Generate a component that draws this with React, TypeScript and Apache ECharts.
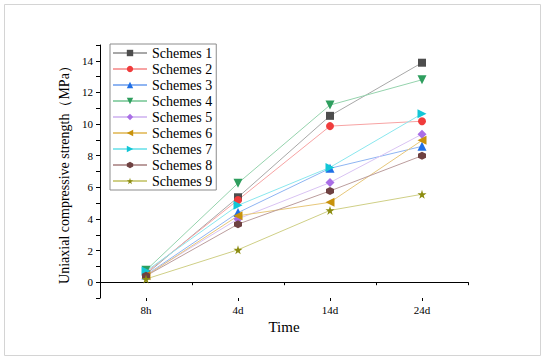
import React, { useEffect, useRef } from "react";
import * as echarts from "echarts";

const categories = ["8h", "4d", "14d", "24d"];
const seriesNames = ["Schemes 1", "Schemes 2", "Schemes 3", "Schemes 4", "Schemes 5", "Schemes 6", "Schemes 7", "Schemes 8", "Schemes 9"];
const s1 = [0.5, 5.37, 10.52, 13.88];
const s2 = [0.6, 5.2, 9.87, 10.18];
const s3 = [0.45, 4.4, 7.2, 8.59];
const s4 = [0.75, 6.26, 11.2, 12.8];
const s5 = [0.45, 4.0, 6.3, 9.36];
const s6 = [0.4, 4.2, 5.05, 8.97];
const s7 = [0.7, 4.86, 7.26, 10.65];
const s8 = [0.4, 3.67, 5.77, 8.0];
const s9 = [0.2, 2.05, 4.54, 5.56];
const allData = [s1, s2, s3, s4, s5, s6, s7, s8, s9];

const markerColors = ["#4d4d4d", "#f03c3c", "#1f6fe6", "#2e9e5e", "#a96ee6", "#c8920c", "#12c6d6", "#6e4141", "#8c8c10"];
const lineColors = ["#a8a8a8", "#f7a3a3", "#8fb5f2", "#95d3ad", "#d9c3f3", "#e7c77a", "#8ae7ee", "#bb9d9d", "#cfcf86"];
const STAR = "path://M50,0 L61,35 L98,35 L68,57 L79,91 L50,70 L21,91 L32,57 L2,35 L39,35 Z";
const HEX = "path://M50,0 L93,25 L93,75 L50,100 L7,75 L7,25 Z";
const symbols = ["rect", "circle", "triangle", "triangle", "diamond", "triangle", "triangle", HEX, STAR];
const rotations = [0, 0, 0, 180, 0, 90, -90, 0, 0];
const sizes = [8, 8, 9, 9, 9, 9, 9, 8, 9];

const FONT = "'Liberation Serif', 'DejaVu Serif', serif";

export default function App() {
  const ref = useRef<HTMLDivElement>(null);
  useEffect(() => {
    if (!ref.current) return;
    const chart = echarts.init(ref.current, null, { renderer: "svg" });
    const option: any = {
      animation: false,
      backgroundColor: "#ffffff",
      graphic: [
        {
          type: "rect",
          shape: { x: 4.5, y: 4.5, width: 536, height: 351 },
          style: { fill: "none", stroke: "#d4d4d4", lineWidth: 1 },
          silent: true,
        },
      ],
      grid: { left: 100, right: 82, top: 45, bottom: 65, containLabel: false },
      legend: {
        orient: "vertical",
        left: 110,
        top: 44,
        data: seriesNames,
        itemWidth: 34,
        itemHeight: 8,
        itemGap: 2,
        padding: [2, 4, 2, 2],
        borderColor: "#8c8c8c",
        borderWidth: 1,
        backgroundColor: "#ffffff",
        textStyle: { fontFamily: FONT, fontSize: 14, color: "#000", lineHeight: 14 },
      },
      xAxis: [
        {
          type: "category",
          data: categories,
          boundaryGap: true,
          name: "Time",
          nameLocation: "middle",
          nameGap: 17,
          nameTextStyle: { fontFamily: FONT, fontSize: 15, color: "#000" },
          axisLine: { lineStyle: { color: "#000", width: 1 } },
          axisTick: { show: true, alignWithLabel: false, length: 3, lineStyle: { color: "#000" } },
          axisLabel: { fontFamily: FONT, fontSize: 11, color: "#000", margin: 6 },
          splitLine: { show: false },
        },
        {
          type: "category",
          data: categories,
          boundaryGap: true,
          position: "bottom",
          axisLine: { show: false },
          axisTick: { show: true, alignWithLabel: true, length: 3, lineStyle: { color: "#000" } },
          axisLabel: { show: false },
          splitLine: { show: false },
        },
      ],
      yAxis: {
        type: "value",
        min: -1,
        max: 15,
        interval: 1,
        name: "Uniaxial compressive strength（MPa）",
        nameLocation: "middle",
        nameGap: 28,
        nameTextStyle: { fontFamily: FONT, fontSize: 14, color: "#000" },
        axisLine: { show: true, lineStyle: { color: "#000", width: 1 } },
        axisTick: { show: true, length: 4, lineStyle: { color: "#000" } },
        axisLabel: {
          fontFamily: FONT,
          fontSize: 11,
          color: "#000",
          margin: 7,
          formatter: (v: number) => (v >= 0 && v <= 14 && v % 2 === 0 ? String(v) : ""),
        },
        splitLine: { show: false },
      },
      series: seriesNames.map((name, i) => ({
        name,
        type: "line",
        data: allData[i],
        symbol: symbols[i],
        symbolSize: sizes[i],
        symbolRotate: rotations[i],
        showAllSymbol: true,
        lineStyle: { color: lineColors[i], width: 1 },
        itemStyle: { color: markerColors[i] },
      })),
    };
    chart.setOption(option);
    return () => chart.dispose();
  }, []);
  return <div ref={ref} style={{ position: "fixed", left: 0, top: 0, width: 550, height: 363 }} />;
}
